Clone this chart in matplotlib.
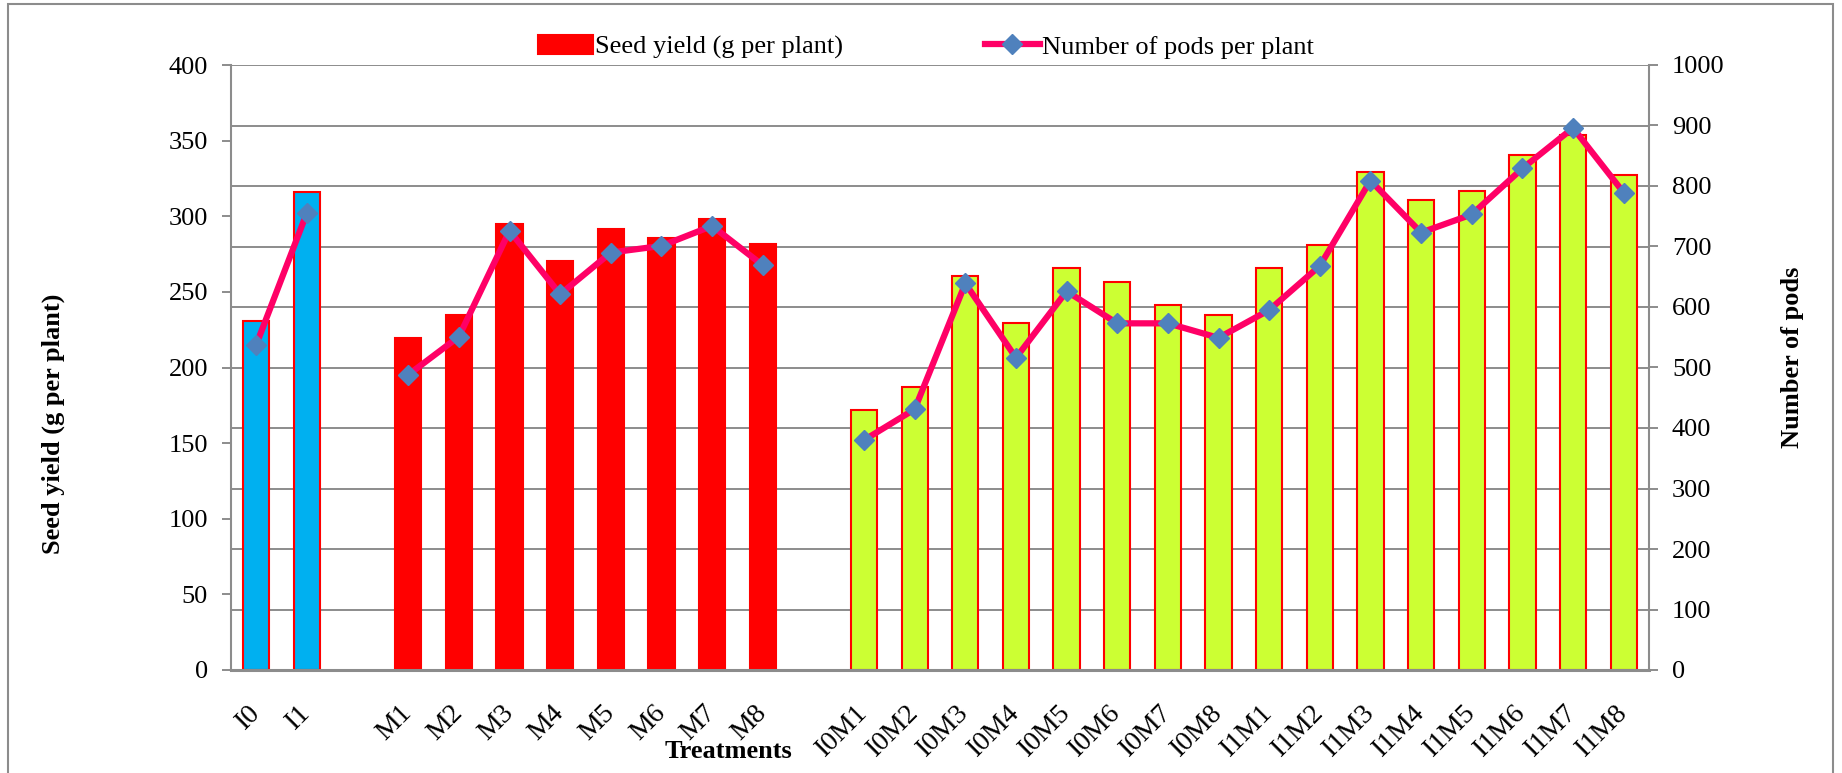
import numpy as np
import pandas as pd
import matplotlib.pyplot as plt
from matplotlib.patches import Rectangle

plt.rcParams['font.family'] = ['Liberation Serif', 'DejaVu Serif']

# Treatments
treatments = ['I0', 'I1',
              'M1', 'M2', 'M3', 'M4', 'M5', 'M6', 'M7', 'M8',
              'I0M1', 'I0M2', 'I0M3', 'I0M4', 'I0M5', 'I0M6', 'I0M7', 'I0M8',
              'I1M1', 'I1M2', 'I1M3', 'I1M4', 'I1M5', 'I1M6', 'I1M7', 'I1M8']
groups = ['I'] * 2 + ['M'] * 8 + ['IM'] * 16

seed_yield = [231, 316,
              219.5, 235, 295, 270.5, 291.5, 285.5, 298.5, 281.5,
              172, 187, 260.5, 229.5, 265.5, 256.5, 241, 234.5,
              266, 281, 329, 310.5, 316.5, 340.5, 353.5, 327.5]

pods_per_plant = [538, 756,
                  488, 551, 726, 621, 690, 701, 734, 669,
                  380, 431, 639, 516, 626, 573, 573, 549,
                  595, 668, 809, 723, 753, 829, 896, 789]

df = pd.DataFrame({'treatment': treatments, 'group': groups,
                   'seed': seed_yield, 'pods': pods_per_plant})
# one empty slot between groups
gap = (df.group != df.group.shift()).cumsum() - 1
df['pos'] = np.arange(len(df)) + gap

bar_colors = {'I': '#00B0F0', 'M': '#FF0000', 'IM': '#CCFF33'}
grey = '#8C8C8C'

fig = plt.figure(figsize=(18.42, 7.73), dpi=100)
ax = fig.add_axes([231 / 1842, 1 - 670 / 773, (1649 - 231) / 1842, (670 - 65) / 773])
ax2 = ax.twinx()

for g, sub in df.groupby('group', sort=False):
    bars = ax.bar(sub.pos, sub.seed, width=0.52, color=bar_colors[g],
                  edgecolor='#FF0000', linewidth=1.5, zorder=2)
    if g == 'M':
        seed_handle = bars
    line, = ax2.plot(sub.pos, sub.pods, color='#FF0066', lw=4.5, marker='D', ms=10,
                     mfc='#4F81BD', mec='#4F81BD', zorder=3)

ax.set_xlim(-0.5, 27.5)
ax.set_ylim(0, 400)
ax2.set_ylim(0, 1000)

# grid follows the right axis (every 100 pods = 40 g)
ax.set_yticks(np.arange(0, 401, 50))
ax.set_yticks(np.arange(0, 401, 40), minor=True)
ax.yaxis.remove_overlapping_locs = False
ax.grid(which='minor', axis='y', color=grey, lw=1.4)
ax.set_axisbelow(True)
ax2.set_yticks(np.arange(0, 1001, 100))

ax.set_xticks(df.pos, df.treatment, rotation=45, ha='right', va='center',
              rotation_mode='anchor')
ax.tick_params(axis='x', length=0, pad=28, labelsize=20)
ax.tick_params(axis='y', which='major', length=6.5, width=1.4, color=grey, pad=10, labelsize=19)
ax.tick_params(axis='y', which='minor', length=0)
ax2.tick_params(axis='y', length=6.5, width=1.4, color=grey, pad=10, labelsize=19)

for a in (ax, ax2):
    a.spines['top'].set_visible(False)
    for s in a.spines.values():
        s.set_color(grey)
        s.set_linewidth(1.5)
ax.spines['right'].set_visible(False)
ax2.spines['left'].set_visible(False)
ax2.spines['bottom'].set_visible(False)
ax.spines['bottom'].set_linewidth(2.2)

fig.text(53 / 1842, 1 - 424 / 773, 'Seed yield (g per plant)', rotation=90,
         ha='center', va='center', fontsize=19, fontweight='bold')
fig.text(1792 / 1842, 1 - 357 / 773, 'Number of pods', rotation=90,
         ha='center', va='center', fontsize=19, fontweight='bold')
fig.text(728 / 1842, 1 - 752 / 773, 'Treatments',
         ha='center', va='center', fontsize=19, fontweight='bold')

fig.legend([seed_handle, line], ['Seed yield (g per plant)', 'Number of pods per plant'],
           loc='center', bbox_to_anchor=(926 / 1842, 1 - 47 / 773), ncol=2, frameon=False,
           fontsize=19, handlelength=2.1, handletextpad=0.08, columnspacing=5.35)

fig.add_artist(Rectangle((8 / 1842, -0.01), (1833 - 8) / 1842, 1.01 - 4 / 773,
                         transform=fig.transFigure, fill=False, edgecolor=grey, lw=1.5))

fig.savefig('out.png', dpi=100)
